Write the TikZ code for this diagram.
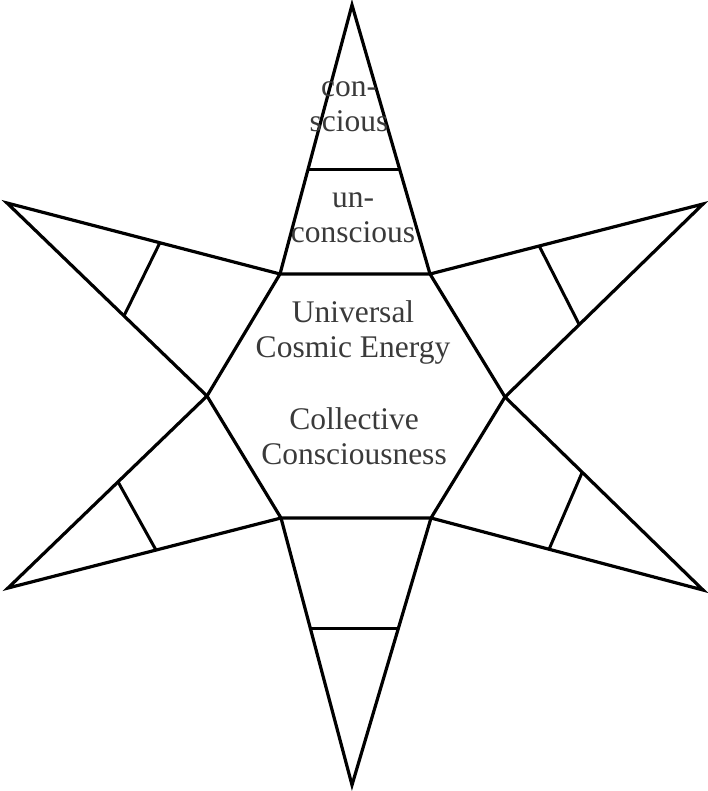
\documentclass[tikz,border=0pt]{standalone}
\usepackage{fontspec}
\setmainfont{Liberation Serif}
\usepackage{tikz}
\usetikzlibrary{calc}
\usepackage{xcolor}
\definecolor{inkgray}{HTML}{3A3A3A}

\tikzset{
  starline/.style={line width=3.2pt, line join=miter},
  crossline/.style={line width=3pt},
  lbl/.style={text=inkgray, font=\fontsize{31.5}{35}\selectfont, align=center,
              inner sep=0pt, anchor=base}
}

\begin{document}
\begin{tikzpicture}[x=1pt, y=-1pt]
  \useasboundingbox (0,0) rectangle (708,791);

  % hexagon corners
  \coordinate (hA) at (280,274);
  \coordinate (hB) at (430,274);
  \coordinate (hC) at (505,397);
  \coordinate (hD) at (431,518);
  \coordinate (hE) at (281,518);
  \coordinate (hF) at (207,396);
  % arm tips
  \coordinate (tT)  at (352,5);
  \coordinate (tUR) at (703,204);
  \coordinate (tLR) at (703,590);
  \coordinate (tB)  at (352,785);
  \coordinate (tLL) at (8,588);
  \coordinate (tUL) at (7,203);

  \draw[starline] (hA) -- (hB) -- (hC) -- (hD) -- (hE) -- (hF) -- cycle;
  \draw[starline] (hA) -- (tT) -- (hB);
  \draw[starline] (hB) -- (tUR) -- (hC);
  \draw[starline] (hC) -- (tLR) -- (hD);
  \draw[starline] (hD) -- (tB) -- (hE);
  \draw[starline] (hE) -- (tLL) -- (hF);
  \draw[starline] (hF) -- (tUL) -- (hA);

  % cross bars in the arms
  \draw[crossline] ($(tT)!0.61!(hA)$) -- ($(tT)!0.61!(hB)$);
  \draw[crossline] ($(tUR)!0.6!(hB)$) -- ($(tUR)!0.625!(hC)$);
  \draw[crossline] ($(tLR)!0.61!(hC)$) -- ($(tLR)!0.566!(hD)$);
  \draw[crossline] ($(tB)!0.585!(hE)$) -- ($(tB)!0.585!(hD)$);
  \draw[crossline] ($(tLL)!0.553!(hF)$) -- ($(tLL)!0.542!(hE)$);
  \draw[crossline] ($(tUL)!0.56!(hA)$) -- ($(tUL)!0.585!(hF)$);

  \node[lbl] (consc) at (349,132) {con-\\scious};
  \node[lbl] (uncon) at (353,243) {un-\\conscious};
  \node[lbl] (energy) at (353,357) {Universal\\Cosmic Energy};
  \node[lbl] (collect) at (354,464) {Collective\\Consciousness};
\end{tikzpicture}
\end{document}
